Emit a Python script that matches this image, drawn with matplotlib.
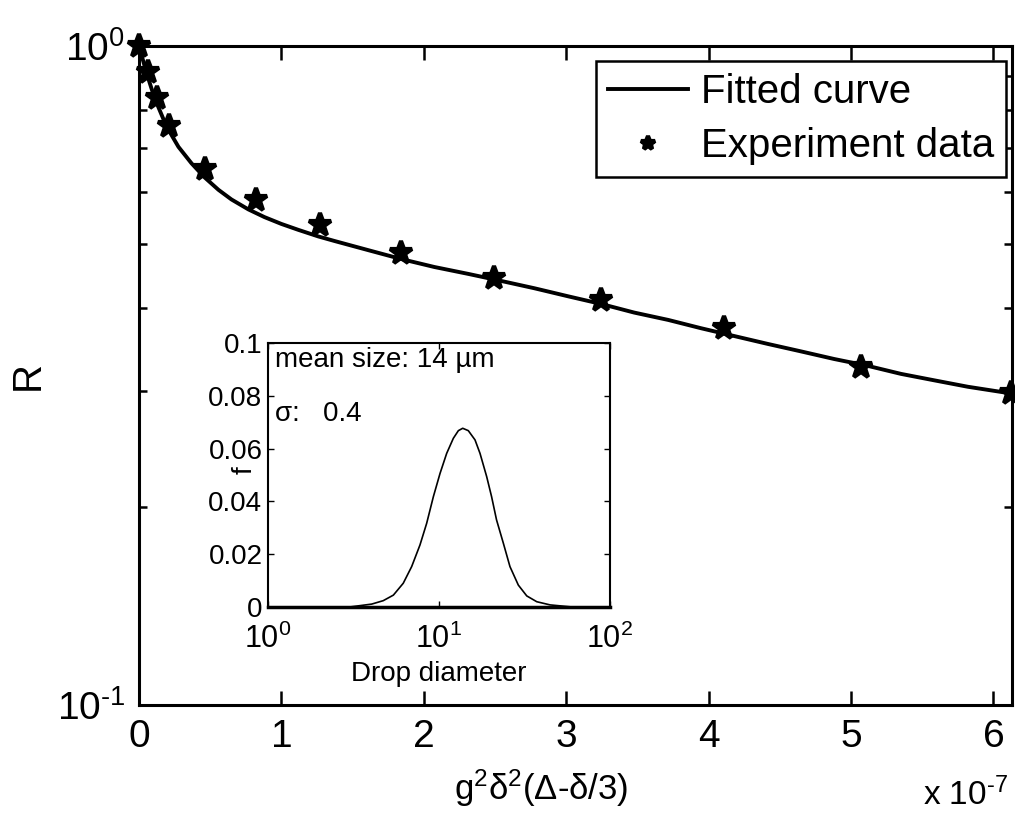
import matplotlib
matplotlib.use('Agg')
from matplotlib import pyplot as plt
from matplotlib.ticker import FixedLocator, FixedFormatter, NullLocator

plt.rcParams['font.family'] = ['Liberation Sans', 'DejaVu Sans']
plt.rcParams['mathtext.fontset'] = 'custom'
plt.rcParams['mathtext.rm'] = 'Liberation Sans'
plt.rcParams['mathtext.it'] = 'Liberation Sans:italic'
plt.rcParams['mathtext.bf'] = 'Liberation Sans:bold'

# experiment data (x in units of 1e-7)
exp_x = [0.0, 0.06, 0.123, 0.214, 0.46, 0.825, 1.274, 1.842, 2.495, 3.246, 4.109, 5.07, 6.123]
exp_r = [1.0, 0.913, 0.834, 0.756, 0.651, 0.584, 0.535, 0.485, 0.445, 0.412, 0.373, 0.326, 0.297]

# fitted curve
fit_x = [0.0, 0.053, 0.109, 0.193, 0.277, 0.368, 0.46, 0.558, 0.649, 0.768, 0.881, 1.0,
         1.119, 1.26, 1.372, 1.61, 1.842, 2.074, 2.312, 2.544, 2.775, 3.014, 3.246,
         3.477, 3.716, 3.947, 4.179, 4.418, 4.649, 4.881, 5.119, 5.351, 5.582, 5.821, 6.123]
fit_r = [1.0, 0.910, 0.834, 0.755, 0.703, 0.664, 0.632, 0.605, 0.585, 0.565, 0.550, 0.537,
         0.526, 0.514, 0.506, 0.490, 0.475, 0.462, 0.451, 0.440, 0.429, 0.417, 0.406,
         0.394, 0.384, 0.373, 0.363, 0.353, 0.344, 0.335, 0.327, 0.318, 0.311, 0.304, 0.297]

# drop size distribution (inset)
drop_d = [1.0, 3.0, 4.04, 4.72, 5.41, 6.18, 6.92, 7.74, 8.47, 9.27, 10.14, 11.09, 12.13,
          12.98, 13.76, 14.84, 16.24, 17.37, 19.0, 20.3, 21.7, 23.8, 26.0, 29.1, 32.6,
          37.3, 44.6, 60.0, 100.0]
drop_f = [0.0, 0.0, 0.0011, 0.0024, 0.0045, 0.0090, 0.0153, 0.0235, 0.0317, 0.0418, 0.0506,
          0.0582, 0.0639, 0.0668, 0.0677, 0.0668, 0.0633, 0.0582, 0.0494, 0.0418, 0.0330,
          0.0241, 0.0153, 0.0083, 0.0042, 0.0020, 0.0008, 0.0, 0.0]

xticks = [0, 1, 2, 3, 4, 5, 6]

W, H = 1015, 815
fig = plt.figure(figsize=(W / 100, H / 100), dpi=100)

# main axes
ax = fig.add_axes([139 / W, 1 - 705 / H, 873 / W, 659 / H])
ax.plot(fit_x, fit_r, color='black', lw=2.8, label='Fitted curve', zorder=2)
ax.plot(exp_x, exp_r, ls='none', marker='*', ms=17, mew=3, color='black',
        label='Experiment data', clip_on=False, zorder=3)
ax.set_yscale('log')
ax.set_xlim(0, 6.13)
ax.set_ylim(0.1, 1.0)
ax.xaxis.set_major_locator(FixedLocator(xticks))
ax.xaxis.set_major_formatter(FixedFormatter([str(t) for t in xticks]))
ax.yaxis.set_major_locator(FixedLocator([0.1, 1.0]))
ax.yaxis.set_major_formatter(FixedFormatter(['$10^{\u20101}$', '$10^{0}$']))
ax.yaxis.set_minor_locator(FixedLocator([0.2, 0.3, 0.4, 0.5, 0.6, 0.7, 0.8, 0.9]))
ax.yaxis.set_minor_formatter(FixedFormatter([''] * 8))
ax.tick_params(which='both', direction='in', top=True, right=True, width=1.8,
               labelsize=28, colors='black')
ax.tick_params(which='major', length=10, pad=10)
ax.tick_params(which='minor', length=6)
for s in ax.spines.values():
    s.set_linewidth(2.2)

leg = ax.legend(loc='upper right', bbox_to_anchor=(0.993, 0.977), borderaxespad=0,
                fontsize=29, frameon=True, fancybox=False, framealpha=1,
                handlelength=2.0, handletextpad=0.3, borderpad=0.3, labelspacing=0.4,
                markerscale=0.6)
leg.get_frame().set_edgecolor('black')
leg.get_frame().set_linewidth(1.8)

fig.text(28 / W, 1 - 375 / H, 'R', rotation=90, fontsize=29, ha='center', va='center')
fig.text(541 / W, 1 - 788 / H, 'g$^2$δ$^2$(Δ-δ/3)', fontsize=25, ha='center', va='center')
fig.text(1008 / W, 1 - 795 / H, 'x 10$^{\u20107}$', fontsize=24, ha='right', va='center')

# inset
ins = fig.add_axes([268 / W, 1 - 607 / H, 342 / W, 264 / H])
ins.plot(drop_d, drop_f, color='black', lw=1.2)
ins.set_xscale('log')
ins.set_xlim(1, 100)
ins.set_ylim(0, 0.1)
ins.xaxis.set_major_locator(FixedLocator([1, 10, 100]))
ins.xaxis.set_major_formatter(FixedFormatter(['$10^{0}$', '$10^{1}$', '$10^{2}$']))
ins.xaxis.set_minor_locator(NullLocator())
ins.yaxis.set_major_locator(FixedLocator([0, 0.02, 0.04, 0.06, 0.08, 0.1]))
ins.yaxis.set_major_formatter(FixedFormatter(['0', '0.02', '0.04', '0.06', '0.08', '0.1']))
ins.tick_params(direction='in', top=True, right=True, length=4, width=1,
                labelsize=20, pad=4, colors='black')
ins.tick_params(axis='x', labelsize=22, pad=12)
for s in ins.spines.values():
    s.set_linewidth(1.5)
ins.spines['bottom'].set_linewidth(2.5)
ins.set_xlabel('Drop diameter', fontsize=20, labelpad=4)
fig.text(245 / W, 1 - 470 / H, 'f', rotation=90, fontsize=20, ha='center', va='center')
ins.text(0.02, 0.985, 'mean size: 14 µm', transform=ins.transAxes, fontsize=20,
         ha='left', va='top')
ins.text(0.02, 0.78, 'σ:   0.4', transform=ins.transAxes, fontsize=20,
         ha='left', va='top')

fig.savefig('out.png', dpi=100)
